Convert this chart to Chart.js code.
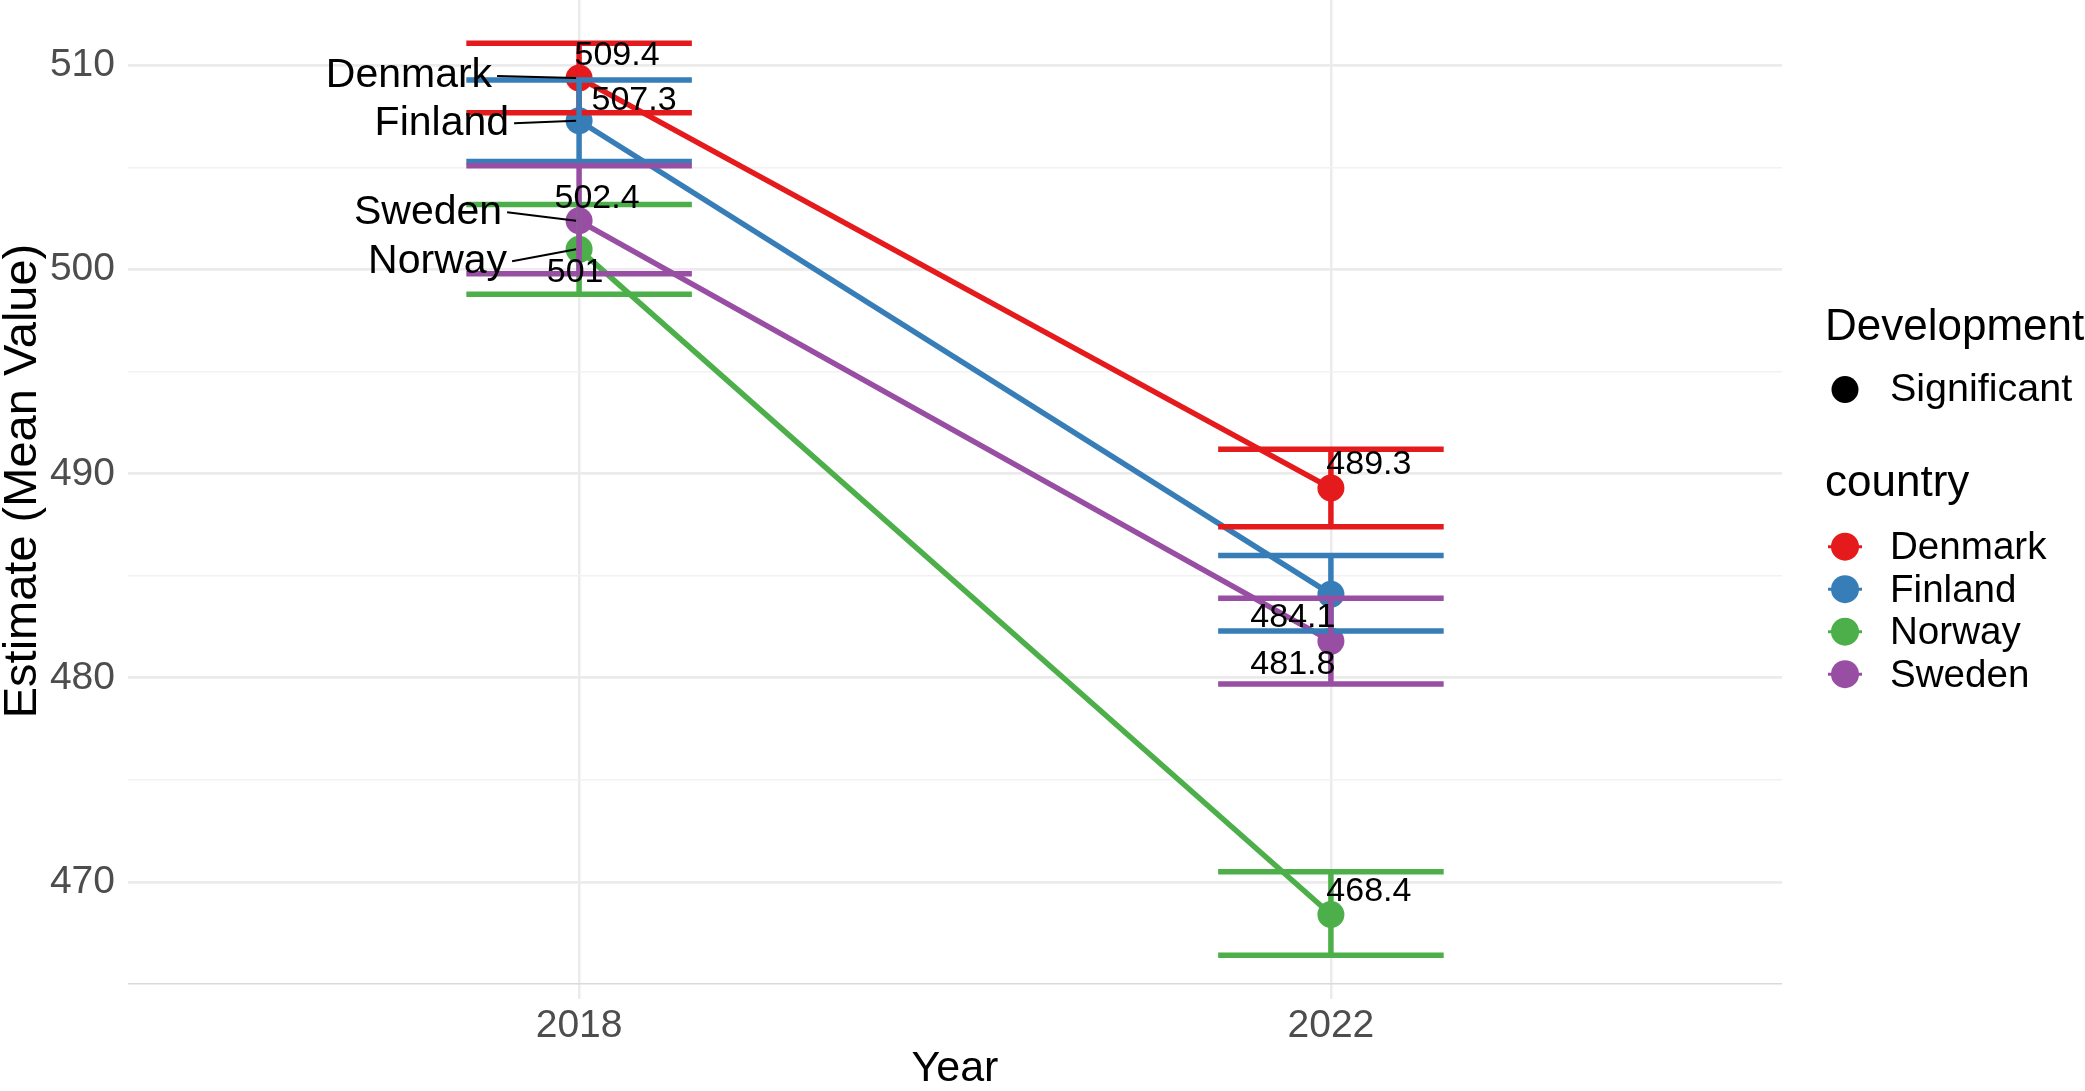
<!DOCTYPE html>
<html>
<head>
<meta charset="utf-8">
<script src="https://cdn.jsdelivr.net/npm/chart.js@4.4.0/dist/chart.umd.min.js"></script>
<style>
  html, body { margin: 0; padding: 0; background: #fff; }
</style>
</head>
<body>
<canvas id="trendChart" width="2085" height="1091"></canvas>
<script>
// data
const years = [2018, 2022];
const countries = ['Denmark', 'Finland', 'Norway', 'Sweden'];
const denmark = [509.4, 489.3];
const finland = [507.3, 484.1];
const norway = [501, 468.4];
const sweden = [502.4, 481.8];
const denmarkLow = [507.7, 487.4];
const denmarkHigh = [511.1, 491.2];
const finlandLow = [505.3, 482.3];
const finlandHigh = [509.3, 486.0];
const norwayLow = [498.8, 466.4];
const norwayHigh = [503.2, 470.5];
const swedenLow = [499.8, 479.7];
const swedenHigh = [505.1, 483.9];
const yTicks = [465, 470, 475, 480, 485, 490, 495, 500, 505, 510];

const values = [denmark, finland, norway, sweden];
const lows = [denmarkLow, finlandLow, norwayLow, swedenLow];
const highs = [denmarkHigh, finlandHigh, norwayHigh, swedenHigh];
const colors = ['#E41A1C', '#377EB8', '#4DAF4A', '#984EA3'];
const family = "'Liberation Sans', Arial, sans-serif";

// label placement (pixel offsets from the point, like ggrepel put them)
const valueOffsets = [
    [[38, -22], [38, -23]],
    [[55, -20], [-38, 23]],
    [[-4, 23], [38, -23]],
    [[18, -22], [-38, 24]]
];
const nameOffsets = [[-87, -2], [-70, 2.5], [-72, 12], [-77, -8.5]];

const lineSets = countries.map((c, i) => ({
    label: c,
    data: years.map((yr, j) => ({ x: yr, y: values[i][j] })),
    borderColor: colors[i],
    borderWidth: 5.5,
    pointRadius: 0,
    fill: false,
    tension: 0,
    order: 20 - i
}));
const pointSets = countries.map((c, i) => ({
    label: c + ' points',
    data: years.map((yr, j) => ({ x: yr, y: values[i][j] })),
    showLine: false,
    pointRadius: 13.5,
    pointBorderWidth: 0,
    pointBackgroundColor: colors[i],
    borderColor: colors[i],
    order: 10 - i
}));

const errorBars = {
    id: 'errorBars',
    afterDatasetsDraw(chart) {
        const { ctx, scales: { x, y } } = chart;
        ctx.save();
        ctx.lineWidth = 5.5;
        ctx.lineCap = 'butt';
        countries.forEach((c, i) => {
            ctx.strokeStyle = colors[i];
            years.forEach((yr, j) => {
                const px = x.getPixelForValue(yr);
                const half = x.getPixelForValue(yr + 0.6) - px;
                const yl = y.getPixelForValue(lows[i][j]);
                const yh = y.getPixelForValue(highs[i][j]);
                ctx.beginPath();
                ctx.moveTo(px, yl); ctx.lineTo(px, yh);
                ctx.moveTo(px - half, yl); ctx.lineTo(px + half, yl);
                ctx.moveTo(px - half, yh); ctx.lineTo(px + half, yh);
                ctx.stroke();
            });
        });
        ctx.restore();
    }
};

const textLabels = {
    id: 'textLabels',
    afterDraw(chart) {
        const { ctx, scales: { x, y } } = chart;
        ctx.save();
        ctx.fillStyle = '#000';
        ctx.textBaseline = 'middle';
        // value labels
        ctx.font = '34px ' + family;
        ctx.textAlign = 'center';
        countries.forEach((c, i) => {
            years.forEach((yr, j) => {
                const px = x.getPixelForValue(yr);
                const py = y.getPixelForValue(values[i][j]);
                const off = valueOffsets[i][j];
                ctx.fillText(String(values[i][j]), px + off[0], py + off[1]);
            });
        });
        // country names with leader lines at the first year
        ctx.font = '41px ' + family;
        ctx.textAlign = 'right';
        ctx.strokeStyle = '#000';
        ctx.lineWidth = 2;
        countries.forEach((c, i) => {
            const px = x.getPixelForValue(years[0]);
            const py = y.getPixelForValue(values[i][0]);
            const off = nameOffsets[i];
            ctx.fillText(c, px + off[0], py + off[1]);
            ctx.beginPath();
            ctx.moveTo(px + off[0] + 5, py + off[1]);
            ctx.lineTo(px - 3, py);
            ctx.stroke();
        });
        // y axis title, placed where the reference has it
        ctx.font = '47px ' + family;
        ctx.textAlign = 'center';
        ctx.translate(23, 481);
        ctx.rotate(-Math.PI / 2);
        ctx.fillText('Estimate (Mean Value)', 0, 0);
        ctx.restore();
    }
};

const sideLegend = {
    id: 'sideLegend',
    afterDraw(chart) {
        const { ctx } = chart;
        const left = 1825;
        ctx.save();
        ctx.fillStyle = '#000';
        ctx.textAlign = 'left';
        ctx.textBaseline = 'alphabetic';
        ctx.font = '44px ' + family;
        ctx.fillText('Development', left, 340);
        ctx.fillText('country', left, 496);
        ctx.font = '39.5px ' + family;
        ctx.beginPath();
        ctx.arc(1845, 389.5, 13.5, 0, Math.PI * 2);
        ctx.fill();
        ctx.fillText('Significant', 1890, 401);
        ctx.font = '38.6px ' + family;
        countries.forEach((c, i) => {
            const base = 559.3 + i * 42.5;
            const cy = base - 12.6;
            ctx.strokeStyle = colors[i];
            ctx.lineWidth = 3;
            ctx.beginPath();
            ctx.moveTo(1828, cy); ctx.lineTo(1862, cy);
            ctx.stroke();
            ctx.fillStyle = colors[i];
            ctx.beginPath();
            ctx.arc(1845, cy, 14, 0, Math.PI * 2);
            ctx.fill();
            ctx.fillStyle = '#000';
            ctx.fillText(c, 1890, base);
        });
        ctx.restore();
    }
};

const ctx = document.getElementById('trendChart').getContext('2d');
new Chart(ctx, {
    type: 'line',
    data: {
        datasets: [...lineSets, ...pointSets]
    },
    plugins: [errorBars, textLabels, sideLegend],
    options: {
        responsive: false,
        animation: false,
        devicePixelRatio: 1,
        layout: {
            autoPadding: false,
            padding: { left: 0, right: 303, top: 0, bottom: 0 }
        },
        plugins: {
            legend: { display: false },
            tooltip: { enabled: false }
        },
        scales: {
            x: {
                type: 'linear',
                min: 2015.6,
                max: 2024.4,
                afterBuildTicks: function(scale) {
                    scale.ticks = years.map(v => ({ value: v }));
                },
                afterFit: function(scale) {
                    scale.height = 92;
                    scale.paddingLeft = 0;
                    scale.paddingRight = 0;
                },
                grid: {
                    color: '#EBEBEB',
                    lineWidth: 2.5,
                    drawTicks: false
                },
                border: { display: false },
                ticks: {
                    font: { size: 39, family: family },
                    color: '#4D4D4D',
                    padding: 4,
                    callback: function(value) {
                        return String(value);
                    }
                },
                title: {
                    display: true,
                    text: 'Year',
                    color: '#000',
                    padding: 0,
                    font: { size: 43, family: family, lineHeight: 1.0 }
                }
            },
            y: {
                type: 'linear',
                min: 464.26,
                max: 513.22,
                afterBuildTicks: function(scale) {
                    scale.ticks = yTicks.map(v => ({ value: v }));
                },
                afterFit: function(scale) {
                    scale.width = 128;
                    scale.paddingTop = 0;
                    scale.paddingBottom = 0;
                },
                grid: {
                    drawTicks: false,
                    color: function(c) {
                        if (c.tick.value === 465) return '#D9D9D9';
                        return c.tick.value % 10 === 0 ? '#EBEBEB' : '#F2F2F2';
                    },
                    lineWidth: function(c) {
                        return c.tick.value % 10 === 0 ? 2.7 : 1.6;
                    }
                },
                border: { display: false },
                ticks: {
                    font: { size: 39, family: family },
                    color: '#4D4D4D',
                    padding: 13,
                    callback: function(value) {
                        return value % 10 === 0 ? String(value) : '';
                    }
                },
                title: { display: false }
            }
        }
    }
});
</script>
</body>
</html>
